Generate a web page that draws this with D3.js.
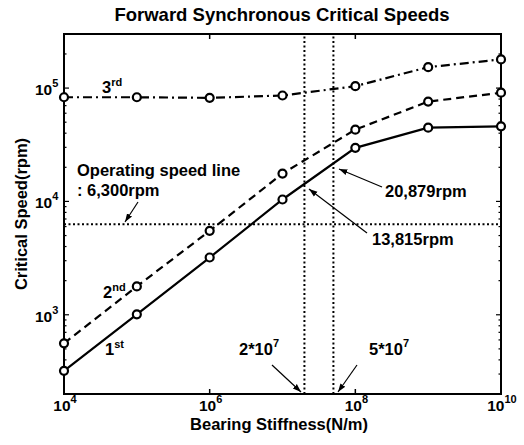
<!DOCTYPE html>
<html><head><meta charset="utf-8">
<script src="https://cdn.jsdelivr.net/npm/d3@7"></script>
<style>
body{margin:0;background:#fff;}
text{font-family:"Liberation Sans",Arial,Helvetica,sans-serif;font-weight:bold;fill:#000;}
</style></head>
<body><svg id="c" width="524" height="445"></svg>
<script>
const stiffness = [1e4, 1e5, 1e6, 1e7, 1e8, 1e9, 1e10];
const mode1 = [320, 1010, 3200, 10400, 29700, 44700, 46000];
const mode2 = [560, 1780, 5500, 17600, 43000, 76000, 91000];
const mode3 = [83000, 83000, 82000, 86000, 104000, 153000, 179000];
const xTicks = [1e4, 1e6, 1e8, 1e10];
const yTicks = [1e3, 1e4, 1e5];
const operatingSpeed = 6300;
const markLines = [2e7, 5e7];

const svg = d3.select("#c");
const m = {l:64, r:23, t:34, b:51};
const W = 524, H = 445;
const x = d3.scaleLog().domain([1e4, 1e10]).range([m.l, W - m.r]);
const y = d3.scaleLog().domain([200, 3e5]).range([H - m.b, m.t]);
const FS = "16.5px", SUP = "11px";

// title
svg.append("text").attr("x", 282).attr("y", 21).attr("text-anchor","middle")
  .style("font-size","18.5px").text("Forward Synchronous Critical Speeds");

const g = svg.append("g");
const minorY = [];
for (let e = 2; e <= 5; e++) for (let k = 1; k <= 9; k++) { const v = k*Math.pow(10,e); if (v>=200 && v<=3e5) minorY.push(v); }
minorY.forEach(v => {
  const major = yTicks.includes(v);
  const len = major ? 5 : 2.5;
  g.append("line").attr("x1", x.range()[0]).attr("x2", x.range()[0]+len).attr("y1", y(v)).attr("y2", y(v)).attr("stroke","#000").attr("stroke-width",1.2);
  g.append("line").attr("x1", x.range()[1]).attr("x2", x.range()[1]-len).attr("y1", y(v)).attr("y2", y(v)).attr("stroke","#000").attr("stroke-width",1.2);
});
xTicks.forEach(v => {
  g.append("line").attr("x1", x(v)).attr("x2", x(v)).attr("y1", y.range()[0]).attr("y2", y.range()[0]-5).attr("stroke","#000").attr("stroke-width",1.5);
  g.append("line").attr("x1", x(v)).attr("x2", x(v)).attr("y1", y.range()[1]).attr("y2", y.range()[1]+5).attr("stroke","#000").attr("stroke-width",1.5);
});

svg.append("rect").attr("x", m.l).attr("y", m.t).attr("width", W-m.l-m.r).attr("height", H-m.t-m.b)
  .attr("fill","none").attr("stroke","#000").attr("stroke-width",2);

function pow10(sel, v) {
  const e = Math.round(Math.log10(v));
  sel.append("tspan").text("10");
  sel.append("tspan").attr("dy", -8).style("font-size",SUP).text(e);
}
xTicks.forEach(v => {
  const t = svg.append("text").attr("x", x(v)+1).attr("y", 411).style("font-size","15.5px").attr("text-anchor","middle");
  pow10(t, v);
});
yTicks.forEach(v => {
  const t = svg.append("text").attr("x", 35).attr("y", y(v)+7).style("font-size","15.5px");
  pow10(t, v);
});

svg.append("text").attr("x", 279).attr("y", 430).attr("text-anchor","middle").style("font-size",FS).text("Bearing Stiffness(N/m)");
svg.append("text").attr("transform", `translate(27,${(m.t + H - m.b)/2}) rotate(-90)`).attr("text-anchor","middle").style("font-size",FS).text("Critical Speed(rpm)");

svg.append("line").attr("x1", x.range()[0]).attr("x2", x.range()[1]).attr("y1", y(operatingSpeed)).attr("y2", y(operatingSpeed))
  .attr("stroke","#000").attr("stroke-width",2).attr("stroke-dasharray","2,2.5");
markLines.forEach(v => {
  svg.append("line").attr("x1", x(v)).attr("x2", x(v)).attr("y1", y.range()[0]).attr("y2", y.range()[1])
    .attr("stroke","#000").attr("stroke-width",2).attr("stroke-dasharray","2,2.5");
});

const series = [
  {vals: mode1, dash: null},
  {vals: mode2, dash: "8,5"},
  {vals: mode3, dash: "9,4,2,4"}
];
const line = d3.line().x(d => x(d[0])).y(d => y(d[1]));
series.forEach(s => {
  const pts = stiffness.map((k,i) => [k, s.vals[i]]);
  svg.append("path").attr("d", line(pts)).attr("fill","none").attr("stroke","#000").attr("stroke-width",2.2)
    .attr("stroke-dasharray", s.dash);
  svg.selectAll(null).data(pts).enter().append("circle")
    .attr("cx", d => x(d[0])).attr("cy", d => y(d[1])).attr("r", 4)
    .attr("fill","#fff").attr("stroke","#000").attr("stroke-width",2.2);
});

function ordLabel(xp, yp, n, suf) {
  const t = svg.append("text").attr("x", xp).attr("y", yp).style("font-size",FS);
  t.append("tspan").text(n);
  t.append("tspan").attr("dy", -7).style("font-size",SUP).text(suf);
}
ordLabel(102, 93, "3", "rd");
ordLabel(103, 298, "2", "nd");
ordLabel(105, 355, "1", "st");

svg.append("defs").append("marker").attr("id","ah").attr("viewBox","0 0 10 10").attr("refX",10).attr("refY",5)
  .attr("markerWidth",7).attr("markerHeight",7).attr("orient","auto")
  .append("path").attr("d","M0,1.5 L10,5 L0,8.5 Z").attr("fill","#000");
function arrow(x1,y1,x2,y2){
  svg.append("line").attr("x1",x1).attr("y1",y1).attr("x2",x2).attr("y2",y2).attr("stroke","#000").attr("stroke-width",1.2).attr("marker-end","url(#ah)");
}
svg.append("text").attr("x", 77).attr("y", 176).style("font-size",FS).text("Operating speed line");
svg.append("text").attr("x", 77).attr("y", 196).style("font-size",FS).text(": 6,300rpm");
arrow(138, 202, 125, 222);

svg.append("text").attr("x", 385).attr("y", 197).style("font-size",FS).text("20,879rpm");
arrow(382, 187, 339, 169);
svg.append("text").attr("x", 372).attr("y", 245).style("font-size",FS).text("13,815rpm");
arrow(367, 233, 309, 189);

const t1 = svg.append("text").attr("x", 239).attr("y", 355).style("font-size",FS);
t1.append("tspan").text("2*10"); t1.append("tspan").attr("dy",-8).style("font-size",SUP).text("7");
arrow(272, 365, 301, 392);
const t2 = svg.append("text").attr("x", 369).attr("y", 355).style("font-size",FS);
t2.append("tspan").text("5*10"); t2.append("tspan").attr("dy",-8).style("font-size",SUP).text("7");
arrow(357, 365, 338, 392);
</script></body></html>
